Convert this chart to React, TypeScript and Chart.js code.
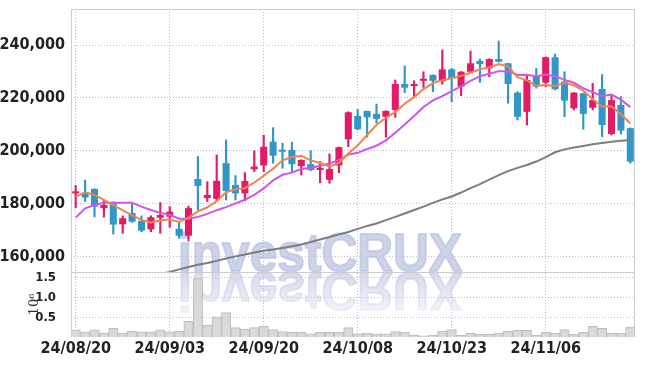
import React, { useEffect, useRef } from 'react';
import { Chart, registerables } from 'chart.js';

Chart.register(...registerables);

const dates = [
  '24/08/20', '24/08/21', '24/08/22', '24/08/23', '24/08/26', '24/08/27', '24/08/28', '24/08/29', '24/08/30', '24/09/02',
  '24/09/03', '24/09/04', '24/09/05', '24/09/06', '24/09/09', '24/09/10', '24/09/11', '24/09/12', '24/09/13', '24/09/19',
  '24/09/20', '24/09/23', '24/09/24', '24/09/25', '24/09/26', '24/09/27', '24/09/30', '24/10/02', '24/10/04', '24/10/07',
  '24/10/08', '24/10/10', '24/10/11', '24/10/14', '24/10/15', '24/10/16', '24/10/17', '24/10/18', '24/10/21', '24/10/22',
  '24/10/23', '24/10/24', '24/10/25', '24/10/28', '24/10/29', '24/10/30', '24/10/31', '24/11/01', '24/11/04', '24/11/05',
  '24/11/06', '24/11/07', '24/11/08', '24/11/11', '24/11/12', '24/11/13', '24/11/14', '24/11/15', '24/11/18', '24/11/19',
];

const xTickLabels = ['24/08/20', '24/09/03', '24/09/20', '24/10/08', '24/10/23', '24/11/06'];

const opens = [
  184000, 183800, 185700, 178400, 180700, 172300, 176600, 173600, 170400, 174800,
  175200, 170600, 168000, 189400, 182200, 181900, 195400, 187200, 184000, 193100,
  194500, 203500, 200400, 200400, 194300, 195000, 192800, 189100, 194500, 204400,
  213200, 215100, 214000, 212900, 215500, 225300, 224500, 226500, 228700, 226400,
  230800, 224300, 229900, 234000, 231200, 234700, 233100, 222000, 214800, 228400,
  225800, 235400, 226200, 216100, 221800, 216300, 223400, 206400, 217400, 208600,
];

const highs = [
  187000, 189000, 185700, 181500, 180800, 175500, 180000, 175500, 175500, 180500,
  179000, 173300, 179200, 197900, 188400, 198500, 204200, 190700, 191800, 200100,
  206000, 208800, 202900, 203300, 196700, 200100, 196000, 198900, 201500, 214800,
  215700, 215100, 217700, 215200, 226800, 232100, 226500, 229900, 228700, 238100,
  231200, 230000, 237700, 234700, 234800, 241500, 233100, 222400, 228700, 231200,
  235500, 236600, 229900, 222100, 221800, 225500, 228900, 221400, 220500, 208700,
];

const lows = [
  178500, 180900, 175100, 175000, 168600, 168900, 173000, 169500, 169500, 168900,
  171200, 167000, 166000, 177700, 180900, 181100, 181500, 181500, 181200, 192200,
  192200, 195400, 193500, 192200, 190900, 192500, 188000, 187800, 191800, 201600,
  208000, 205200, 210500, 205200, 212700, 222000, 220500, 224000, 222400, 225200,
  218600, 220900, 229700, 225900, 228000, 233600, 218000, 211700, 209800, 223700,
  224300, 223000, 212900, 215500, 208200, 215500, 205400, 206000, 206400, 195400,
];

const closes = [
  184500, 182400, 179000, 179600, 172200, 174600, 173300, 169900, 175000, 175800,
  177100, 168000, 178400, 186800, 183400, 188700, 184900, 184000, 188700, 194100,
  201600, 198200, 199700, 195000, 196600, 192800, 193200, 193200, 201400, 214600,
  208200, 212700, 212100, 215100, 225300, 223900, 225300, 227200, 226500, 230800,
  227400, 229900, 233100, 232800, 234700, 233700, 225300, 212900, 226800, 224300,
  235400, 223300, 219000, 222000, 214000, 219200, 209800, 219200, 207700, 196000,
];

const ma5 = [
  182750, 184410, 183390, 181500, 179540, 177560, 175740, 173920, 173000, 173720,
  174220, 173160, 174860, 177220, 178740, 181060, 184440, 185560, 185940, 188080,
  190660, 193320, 196460, 197720, 198220, 196460, 195460, 194160, 195440, 199040,
  202120, 206020, 209800, 212540, 214680, 217820, 220340, 223360, 225640, 226740,
  227440, 228360, 229540, 230800, 231580, 232840, 231920, 227880, 226680, 224600,
  224940, 224540, 225760, 224800, 222740, 219500, 216800, 216840, 213980, 210380,
];

const ma10 = [
  174820, 178370, 179620, 180480, 180480, 180480, 180480, 178980, 177730, 176630,
  175890, 174450, 174390, 175110, 176230, 177640, 178800, 180210, 181580, 183410,
  185860, 188880, 191010, 191830, 193150, 193560, 194390, 195310, 196580, 198630,
  199290, 200740, 201980, 203990, 206860, 209970, 213180, 216580, 219090, 220710,
  222630, 224350, 226450, 228220, 229160, 230140, 230140, 228710, 228740, 228090,
  228890, 228230, 226820, 225740, 223670, 222220, 220670, 221300, 219390, 216560,
];

const maLong = [
  146300, 147100, 147900, 148700, 149500, 150300, 151100, 151900, 152700, 153500,
  154300, 155300, 156200, 157000, 157700, 158500, 159400, 160200, 160900, 161700,
  162300, 162800, 163400, 164000, 164700, 165600, 166600, 167500, 168500, 169400,
  170600, 171700, 172600, 173900, 175100, 176400, 177700, 179000, 180400, 181700,
  182800, 184300, 186000, 187500, 189200, 190900, 192400, 193600, 194700, 196000,
  197700, 199500, 200600, 201300, 201900, 202500, 203000, 203500, 203900, 204100,
];

// volume in millions of shares
const volumes = [
  0.18, 0.13, 0.18, 0.10, 0.22, 0.10, 0.15, 0.13, 0.13, 0.18,
  0.13, 0.15, 0.40, 1.48, 0.30, 0.51, 0.62, 0.24, 0.20, 0.24,
  0.27, 0.19, 0.14, 0.12, 0.12, 0.08, 0.12, 0.12, 0.12, 0.24,
  0.08, 0.10, 0.08, 0.08, 0.14, 0.12, 0.05, 0.03, 0.05, 0.15,
  0.19, 0.04, 0.09, 0.07, 0.07, 0.10, 0.15, 0.17, 0.17, 0.04,
  0.12, 0.10, 0.19, 0.07, 0.12, 0.27, 0.22, 0.10, 0.10, 0.25,
];

const priceTicks = [160000, 180000, 200000, 220000, 240000];
const volumeTicks = [0.5, 1.0, 1.5];

const UP = 'rgb(226,26,104)';
const DOWN = 'rgb(48,151,200)';
const FONT_FAMILY = '"Liberation Sans Narrow", "DejaVu Sans Condensed", "Liberation Sans", sans-serif';
const TICK_FONT = { family: FONT_FAMILY, size: 16, weight: 'bold' as const };
const VOL_FONT = { family: FONT_FAMILY, size: 13, weight: 'bold' as const };
const GRID = 'rgba(165,165,205,0.75)';

const watermark = {
  id: 'watermark',
  beforeDatasetsDraw(chart: any) {
    const { ctx, chartArea } = chart;
    const base = chart.scales.y.bottom;
    const x = chartArea.left + 107;
    ctx.save();
    ctx.beginPath();
    ctx.rect(chartArea.left, chartArea.top, chartArea.right - chartArea.left, chartArea.bottom - chartArea.top);
    ctx.clip();
    ctx.font = 'bold 54px "Liberation Sans", sans-serif';
    ctx.textAlign = 'left';
    ctx.textBaseline = 'alphabetic';
    ctx.lineJoin = 'round';
    ctx.fillStyle = 'rgba(186,195,225,0.72)';
    ctx.strokeStyle = 'rgba(186,195,225,0.72)';
    ctx.lineWidth = 2;
    ctx.fillText('investCRUX', x, base - 1, 284);
    ctx.strokeText('investCRUX', x, base - 1, 284);
    ctx.translate(0, base * 2);
    ctx.scale(1, -1);
    const g = ctx.createLinearGradient(0, base, 0, base - 55);
    g.addColorStop(0, 'rgba(200,206,230,0.75)');
    g.addColorStop(1, 'rgba(200,206,230,0)');
    ctx.fillStyle = g;
    ctx.strokeStyle = g;
    ctx.fillText('investCRUX', x, base - 1, 284);
    ctx.strokeText('investCRUX', x, base - 1, 284);
    ctx.restore();
  },
};

const frame = {
  id: 'frame',
  afterDraw(chart: any) {
    const { ctx, chartArea: a } = chart;
    const divider = Math.round(chart.scales.y.bottom) + 0.5;
    ctx.save();
    ctx.strokeStyle = '#cdcdcd';
    ctx.lineWidth = 1;
    ctx.beginPath();
    ctx.moveTo(Math.round(a.left) + 0.5, a.bottom);
    ctx.lineTo(Math.round(a.left) + 0.5, Math.round(a.top) + 0.5);
    ctx.lineTo(Math.round(a.right) - 0.5, Math.round(a.top) + 0.5);
    ctx.lineTo(Math.round(a.right) - 0.5, a.bottom);
    ctx.moveTo(a.left, divider);
    ctx.lineTo(a.right, divider);
    ctx.stroke();
    ctx.restore();
  },
};

const noPad = (s: any) => {
  s.paddingTop = 0;
  s.paddingBottom = 0;
  s.paddingLeft = 0;
  s.paddingRight = 0;
};

export default function App() {
  const ref = useRef<HTMLCanvasElement>(null);

  useEffect(() => {
    const canvas = ref.current;
    if (!canvas) return;
    const colors = closes.map((c, i) => (c >= opens[i] ? UP : DOWN));
    const chart = new Chart(canvas, {
      type: 'bar',
      data: {
        labels: dates,
        datasets: [
          {
            type: 'line',
            label: 'MA5',
            data: ma5,
            yAxisID: 'y',
            borderColor: 'rgb(240,132,76)',
            borderWidth: 2,
            pointRadius: 0,
            tension: 0,
            order: 0,
          } as any,
          {
            type: 'line',
            label: 'MA10',
            data: ma10,
            yAxisID: 'y',
            borderColor: 'rgb(205,86,236)',
            borderWidth: 2,
            pointRadius: 0,
            tension: 0,
            order: 0,
          } as any,
          {
            type: 'line',
            label: 'MA long',
            data: maLong,
            yAxisID: 'y',
            borderColor: 'rgb(125,125,125)',
            borderWidth: 2,
            pointRadius: 0,
            tension: 0,
            order: 0,
          } as any,
          {
            type: 'bar',
            label: 'body',
            data: opens.map((o, i) => [o, closes[i]]),
            yAxisID: 'y',
            backgroundColor: colors,
            barPercentage: 0.75,
            categoryPercentage: 1,
            grouped: false,
            minBarLength: 2,
            order: 1,
          } as any,
          {
            type: 'bar',
            label: 'wick',
            data: lows.map((l, i) => [l, highs[i]]),
            yAxisID: 'y',
            backgroundColor: colors,
            barThickness: 1.5,
            grouped: false,
            order: 2,
          } as any,
          {
            type: 'bar',
            label: 'volume',
            data: volumes,
            yAxisID: 'yv',
            backgroundColor: 'rgba(214,214,214,0.9)',
            borderColor: 'rgb(190,190,190)',
            borderWidth: 1,
            barPercentage: 1,
            categoryPercentage: 1,
            grouped: false,
            order: 3,
          } as any,
        ],
      },
      options: {
        responsive: false,
        animation: false,
        events: [],
        layout: { padding: { top: 9, right: 10, bottom: 0, left: 0 } },
        plugins: { legend: { display: false }, tooltip: { enabled: false } },
        scales: {
          x: {
            type: 'category',
            offset: true,
            grid: { offset: false, color: GRID, drawTicks: false, lineWidth: 1 },
            border: { display: false, dash: [1, 2] },
            ticks: { autoSkip: false, maxRotation: 0, minRotation: 0, padding: 2, color: '#222', font: TICK_FONT },
            afterBuildTicks: (s: any) => {
              s.ticks = s.ticks.filter((t: any) => xTickLabels.includes(dates[t.value]));
            },
            afterFit: (s: any) => {
              noPad(s);
              s.height = 29;
            },
          },
          yv: {
            type: 'linear',
            position: 'left',
            stack: 'panels',
            stackWeight: 65,
            weight: 0,
            min: 0,
            max: 1.65,
            grid: { color: GRID, drawTicks: false },
            border: { display: false, dash: [1, 2] },
            title: {
              display: true,
              text: '10⁶',
              color: '#333',
              font: { family: '"DejaVu Serif", serif', size: 13 },
              padding: { top: 27, bottom: 0 },
            },
            ticks: {
              autoSkip: false,
              padding: 15,
              color: '#222',
              font: VOL_FONT,
              callback: (v: any) => Number(v).toFixed(1),
            },
            afterBuildTicks: (s: any) => {
              s.ticks = volumeTicks.map((v) => ({ value: v }));
            },
            afterFit: (s: any) => {
              noPad(s);
              s.width = 71;
            },
          },
          y: {
            type: 'linear',
            position: 'left',
            stack: 'panels',
            stackWeight: 263,
            weight: 1,
            min: 154300,
            max: 253600,
            grid: { color: GRID, drawTicks: false },
            border: { display: false, dash: [1, 2] },
            ticks: {
              autoSkip: false,
              padding: 6,
              color: '#222',
              font: TICK_FONT,
              callback: (v: any) => Number(v).toLocaleString('en-US'),
            },
            afterBuildTicks: (s: any) => {
              s.ticks = priceTicks.map((v) => ({ value: v }));
            },
            afterFit: (s: any) => {
              noPad(s);
              s.width = 71;
            },
          },
        },
      } as any,
      plugins: [watermark, frame],
    });
    return () => chart.destroy();
  }, []);

  return (
    <div style={{ position: 'fixed', left: 0, top: 0, width: 645, height: 366, background: '#fff' }}>
      <canvas ref={ref} width={645} height={366} style={{ display: 'block' }} />
    </div>
  );
}
